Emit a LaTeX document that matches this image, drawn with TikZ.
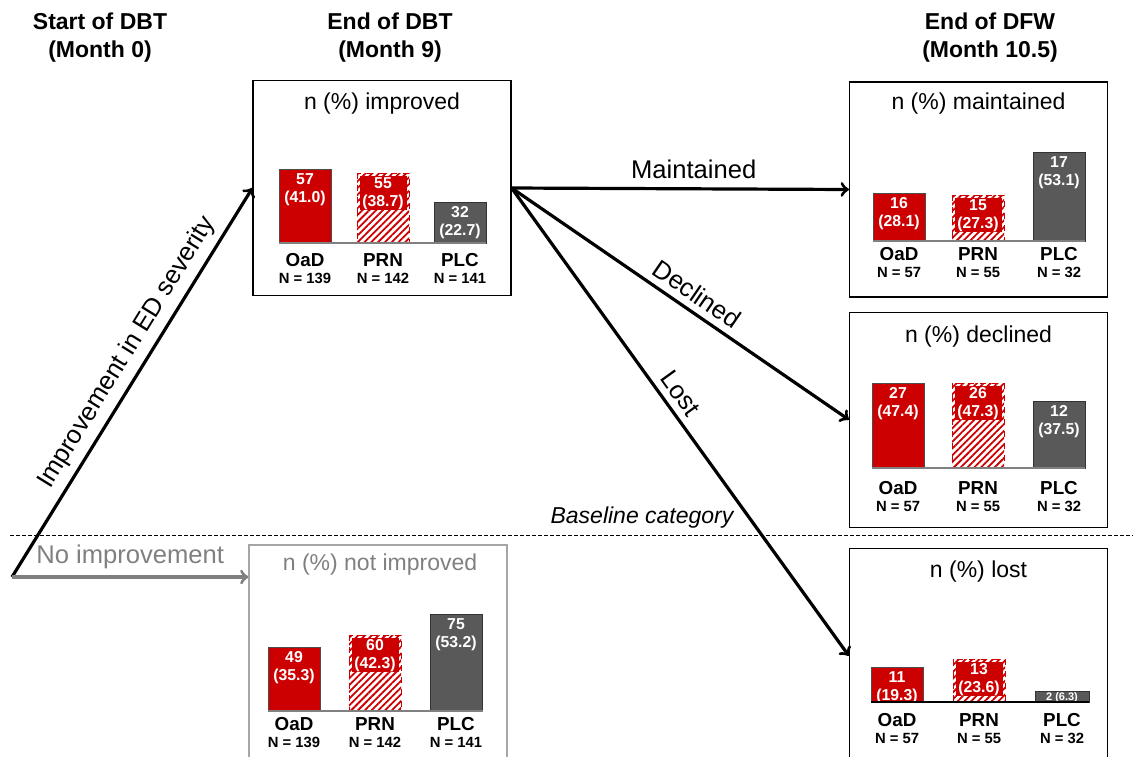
\documentclass[tikz,border=0pt]{standalone}
\usepackage{fontspec}
\setmainfont{Liberation Sans}
\usetikzlibrary{positioning,calc,patterns.meta}
\definecolor{oadred}{RGB}{204,0,0}
\definecolor{plcgray}{RGB}{89,89,89}
\definecolor{midgray}{RGB}{128,128,128}
\definecolor{lightborder}{RGB}{166,166,166}
% one bar: name, kind, left x, top y, base y, count (pct), group, N, label y
\newcommand{\resbar}[9]{%
    \draw[#2 bar] (#3,#4) rectangle (#3+52,#5);
    \path[#2 inner] (#3+2.5,#4+2.5) rectangle (#3+49.5,#4+37);
    \node[barnum] (#1-num) at (#3+26,#4+20.5) {#6};
    \node[grp] (#1-grp) at (#3+26,#9) {#7};
    \node[grpn] (#1-n) at (#3+26,#9+18.5) {N = #8};
}

\begin{document}
\begin{tikzpicture}[
    x=0.5pt, y=-0.5pt,
    panel/.style={draw, line width=0.6pt, minimum width=129pt, minimum height=107.5pt, inner sep=0pt},
    headtxt/.style={font=\fontsize{11.5}{14}\selectfont\bfseries, align=center},
    paneltitle/.style={font=\fontsize{11.5}{14}\selectfont},
    flow/.style={->, line width=1.6pt},
    flowlab/.style={font=\fontsize{12.8}{15}\selectfont},
    cutline/.style={dash pattern=on 2pt off 1pt, line width=0.5pt},
    baseaxis/.style={draw=gray, line width=0.6pt},
    oad bar/.style={fill=oadred, draw=black!70, line width=0.4pt},
    prn bar/.style={pattern={Lines[angle=45,distance=2.4pt,line width=0.9pt]}, pattern color=oadred, draw=oadred, line width=0.4pt, dashed},
    plc bar/.style={fill=plcgray, draw=black!80, line width=0.4pt},
    oad inner/.style={}, prn inner/.style={fill=oadred}, plc inner/.style={},
    barnum/.style={text=white, font=\fontsize{7.9}{9}\selectfont\bfseries, align=center, inner sep=0pt},
    grp/.style={font=\fontsize{9.4}{10}\selectfont\bfseries, inner sep=0pt},
    grpn/.style={font=\fontsize{7.4}{8}\selectfont\bfseries, inner sep=0pt}
]
    \useasboundingbox (0,0) rectangle (1133,756);
    \clip (0,0) rectangle (1133,756);

    % Time points
    \node[headtxt] (t0) at (100,38) {Start of DBT\\(Month 0)};
    \node[headtxt] (t9) at (390,38) {End of DBT\\(Month 9)};
    \node[headtxt] (t105) at (990,38) {End of DFW\\(Month 10.5)};

    % Panels
    \node[panel] (imp) at (382,188) {};
    \node[panel] (maint) at (978.5,189.5) {};
    \node[panel, below=7pt of maint] (decl) {};
    \node[panel, below=10pt of decl] (lost) {};
    \node[panel, draw=lightborder] (notimp) at (378,652.5) {};

    \node[paneltitle] (imp-title) at ($(imp.north)+(0,24)$) {n (\%) improved};
    \node[paneltitle] (maint-title) at ($(maint.north)+(0,22)$) {n (\%) maintained};
    \node[paneltitle] (decl-title) at ($(decl.north)+(0,25)$) {n (\%) declined};
    \node[paneltitle] (lost-title) at ($(lost.north)+(0,24)$) {n (\%) lost};
    \node[paneltitle, text=midgray] (notimp-title) at ($(notimp.north)+(2,20)$) {n (\%) not improved};

    % Improved
    \resbar{imp-oad}{oad}{279}{169}{243}{57\\(41.0)}{OaD}{139}{260}
    \resbar{imp-prn}{prn}{357}{173}{243}{55\\(38.7)}{PRN}{142}{260}
    \resbar{imp-plc}{plc}{434}{202}{243}{32\\(22.7)}{PLC}{141}{260}
    \draw[baseaxis] (279,243) -- (486,243);

    % Maintained
    \resbar{maint-oad}{oad}{873}{193}{241}{16\\(28.1)}{OaD}{57}{254}
    \resbar{maint-prn}{prn}{952}{195}{241}{15\\(27.3)}{PRN}{55}{254}
    \resbar{maint-plc}{plc}{1033}{152}{241}{17\\(53.1)}{PLC}{32}{254}
    \draw[baseaxis] (873,241) -- (1085,241);

    % Declined
    \resbar{decl-oad}{oad}{872}{383}{468}{27\\(47.4)}{OaD}{57}{488}
    \resbar{decl-prn}{prn}{952}{383}{468}{26\\(47.3)}{PRN}{55}{488}
    \resbar{decl-plc}{plc}{1033}{401}{468}{12\\(37.5)}{PLC}{32}{488}
    \draw[baseaxis] (872,468) -- (1085,468);

    % Lost
    \resbar{lost-oad}{oad}{871}{667}{702}{11\\(19.3)}{OaD}{57}{720}
    \resbar{lost-prn}{prn}{953}{659}{702}{13\\(23.6)}{PRN}{55}{720}
    \draw[plc bar] (1035,691) rectangle (1089,702);
    \node[barnum, font=\fontsize{5.5}{6}\selectfont\bfseries] (lost-plc-num) at (1062,698) {2 (6.3)};
    \node[grp] (lost-plc-grp) at (1062,720) {PLC};
    \node[grpn] (lost-plc-n) at (1062,738.5) {N = 32};
    \draw[baseaxis, draw=black] (871,702) -- (1089,702);

    % Not improved
    \resbar{notimp-oad}{oad}{268}{647}{711}{49\\(35.3)}{OaD}{139}{724}
    \resbar{notimp-prn}{prn}{349}{635}{711}{60\\(42.3)}{PRN}{142}{724}
    \resbar{notimp-plc}{plc}{430}{614}{711}{75\\(53.2)}{PLC}{141}{724}
    \draw[baseaxis] (268,711) -- (483,711);

    % Baseline split
    \coordinate (cut-l) at (10,535);
    \coordinate (cut-r) at (1133,535);
    \draw[cutline] (cut-l) -- (cut-r);
    \node[font=\fontsize{11.5}{14}\selectfont\itshape] (basecat) at (642,518) {Baseline category};

    % Flows
    \coordinate (start) at (12,577);
    \draw[flow] (start) -- (imp.west) node[flowlab, pos=0.55, above, sloped] (lab-imp) {Improvement in ED severity};
    \draw[flow, draw=midgray] (start) -- (start -| notimp.west) node[flowlab, text=midgray, midway, above=0pt] (lab-noimp) {No improvement};
    \draw[flow] (imp.east) -- (maint.west) node[flowlab, pos=0.54, above=1pt] (lab-maint) {Maintained};
    \draw[flow] (imp.east) -- (decl.west) node[flowlab, pos=0.52, above, sloped] (lab-decl) {Declined};
    \draw[flow] (imp.east) -- (lost.west) node[flowlab, pos=0.46, above, sloped] (lab-lost) {Lost};
\end{tikzpicture}
\end{document}
